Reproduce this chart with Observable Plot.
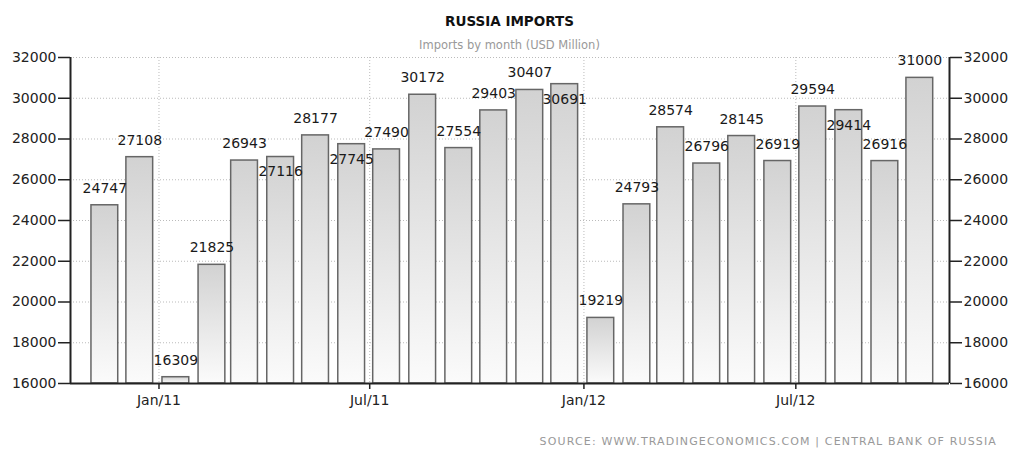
<!DOCTYPE html>
<html>
<head>
<meta charset="utf-8">
<script src="https://cdn.jsdelivr.net/npm/d3@7"></script>
<script src="https://cdn.jsdelivr.net/npm/@observablehq/plot@0.6"></script>
<style>
  html, body { margin: 0; padding: 0; background: #fff; }
  #wrap { width: 1013px; height: 449px; position: relative; overflow: hidden; font-family: "DejaVu Sans", sans-serif; }
  #header { position: relative; height: 40px; }
  #title { position: absolute; left: 70px; right: 64px; top: 13px; line-height: 16px; text-align: center; font-weight: bold; font-size: 13.5px; color: #111; }
  #subtitle { position: absolute; left: 70px; right: 64px; top: 38px; line-height: 14px; text-align: center; font-size: 11.5px; color: #999; z-index: 1; }
  #caption { position: absolute; right: 16px; top: 435px; line-height: 14px; font-size: 11px; letter-spacing: 1.15px; color: #999; }
</style>
</head>
<body>
<div id="wrap">
  <div id="header">
    <div id="title">RUSSIA IMPORTS</div>
    <div id="subtitle">Imports by month (USD Million)</div>
  </div>
  <div id="chart"></div>
  <div id="caption">SOURCE: WWW.TRADINGECONOMICS.COM | CENTRAL BANK OF RUSSIA</div>
</div>
<script>
const months = ["2010-11","2010-12","2011-01","2011-02","2011-03","2011-04","2011-05","2011-06",
  "2011-07","2011-08","2011-09","2011-10","2011-11","2011-12","2012-01","2012-02","2012-03",
  "2012-04","2012-05","2012-06","2012-07","2012-08","2012-09","2012-10"];
const values = [24747,27108,16309,21825,26943,27116,28177,27745,27490,30172,27554,29403,
  30407,30691,19219,24793,28574,26796,28145,26919,29594,29414,26916,31000];
const yTicks = [16000,18000,20000,22000,24000,26000,28000,30000,32000];
const xTicks = ["2011-01","2011-07","2012-01","2012-07"];
const xDomain = ["2010-10-17","2012-11-10"];

const parse = d3.utcParse("%Y-%m");
const parseDay = d3.utcParse("%Y-%m-%d");
const data = months.map((m, i) => ({date: parse(m), value: values[i]}));
const yMin = yTicks[0], yMax = yTicks[yTicks.length - 1];

const W = 1013, H = 378, mt = 17, mb = 35, ml = 70, mr = 64;
const k = (H - mt - mb) / (yMax - yMin);

// simple label collision avoidance: drop label into the bar if it collides with the previous one
let prev = null;
data.forEach(d => {
  const top = (d.value - yMin) * k;
  let pos = top + 17;
  if (prev !== null && Math.abs(pos - prev) < 14) pos = top - 15;
  d.above = pos > top;
  prev = pos;
});

const x1 = d => d3.utcDay.offset(d.date, 3);
const x2 = d => d3.utcDay.offset(d.date, 26);
const xm = d => new Date((x1(d).getTime() + x2(d).getTime()) / 2);

const defs = () => {
  const s = d3.create("svg:defs");
  const g = s.append("linearGradient").attr("id", "barGrad").attr("x1", 0).attr("y1", 0).attr("x2", 0).attr("y2", 1);
  g.append("stop").attr("offset", "0%").attr("stop-color", "#d2d2d2");
  g.append("stop").attr("offset", "100%").attr("stop-color", "#fbfbfb");
  return s.node();
};

const chart = Plot.plot({
  width: W, height: H,
  marginTop: mt, marginBottom: mb, marginLeft: ml, marginRight: mr,
  style: {fontFamily: "DejaVu Sans", fontSize: "14px", color: "#222", background: "transparent"},
  x: {type: "utc", domain: xDomain.map(parseDay)},
  y: {domain: [yMin, yMax]},
  marks: [
    defs,
    Plot.gridY(yTicks, {stroke: "#bbb", strokeOpacity: 1, strokeDasharray: "1,2"}),
    Plot.gridX(xTicks.map(parse), {stroke: "#bbb", strokeOpacity: 1, strokeDasharray: "1,2"}),
    Plot.rectY(data, {x1, x2, y1: yMin, y2: "value", fill: "url(#barGrad)", stroke: "#666", strokeWidth: 1.5}),
    Plot.text(data.filter(d => d.above), {x: xm, y: "value", text: d => String(d.value), dy: -17, lineAnchor: "middle", fill: "#1a1a1a", fontSize: 14}),
    Plot.text(data.filter(d => !d.above), {x: xm, y: "value", text: d => String(d.value), dy: 15, lineAnchor: "middle", fill: "#1a1a1a", fontSize: 14}),
    Plot.axisY(yTicks, {anchor: "left", tickSize: 12, tickPadding: 2, tickFormat: d => String(d), label: null, stroke: "#222", strokeWidth: 1.5, fill: "#222"}),
    Plot.axisY(yTicks, {anchor: "right", tickSize: 12, tickPadding: 2, tickFormat: d => String(d), label: null, stroke: "#222", strokeWidth: 1.5, fill: "#222"}),
    Plot.axisX(xTicks.map(parse), {anchor: "bottom", tickSize: 6, tickPadding: 6, tickFormat: d3.utcFormat("%b/%y"), label: null, stroke: "#222", strokeWidth: 1.5, fill: "#222"}),
    Plot.ruleY([yMin], {stroke: "#222", strokeWidth: 2}),
    Plot.ruleX(xDomain.map(parseDay), {y1: yMin, y2: yMax, stroke: "#222", strokeWidth: 2})
  ]
});
document.getElementById("chart").appendChild(chart);
</script>
</body>
</html>
